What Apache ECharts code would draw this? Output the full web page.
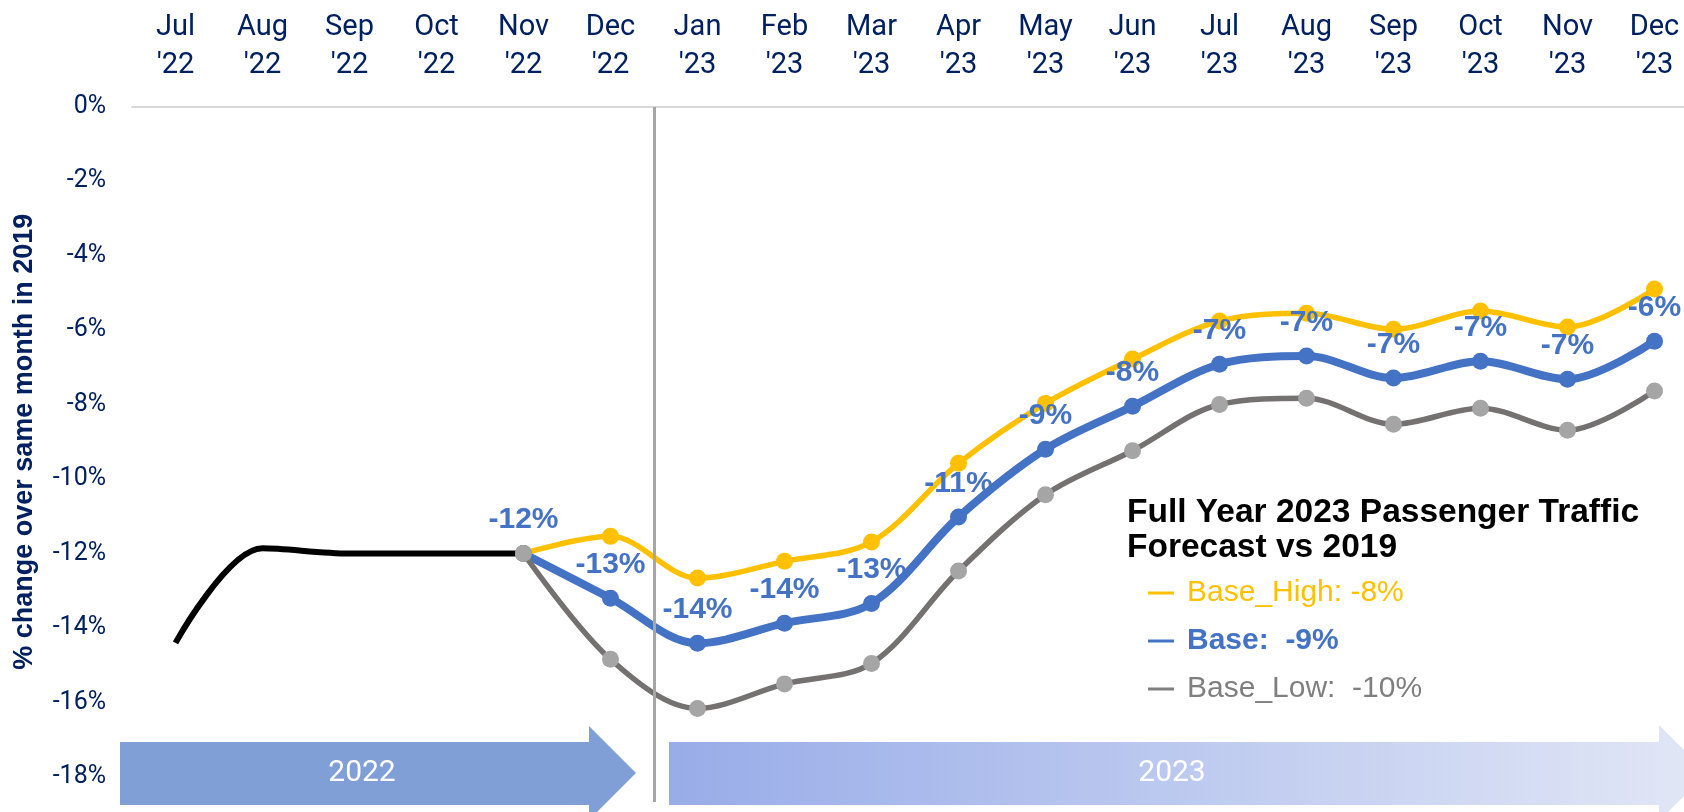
<!DOCTYPE html>
<html>
<head>
<meta charset="utf-8">
<script src="https://cdn.jsdelivr.net/npm/echarts@6/dist/echarts.min.js"></script>
<style>
html,body{margin:0;padding:0;background:#fff;}
#c{width:1684px;height:812px;}
</style>
</head>
<body>
<div id="c"></div>
<script>
// ---- data ----
const categories = ["Jul\n'22","Aug\n'22","Sep\n'22","Oct\n'22","Nov\n'22","Dec\n'22",
  "Jan\n'23","Feb\n'23","Mar\n'23","Apr\n'23","May\n'23","Jun\n'23",
  "Jul\n'23","Aug\n'23","Sep\n'23","Oct\n'23","Nov\n'23","Dec\n'23"];
const actual   = [-14.4,-11.86,-12.0,-12.0,-12.0,null,null,null,null,null,null,null,null,null,null,null,null,null];
const baseHigh = [null,null,null,null,-12.0,-11.54,-12.66,-12.21,-11.69,-9.58,-7.97,-6.78,-5.76,-5.55,-5.98,-5.49,-5.92,-4.9];
const base     = [null,null,null,null,-12.0,-13.2,-14.41,-13.87,-13.34,-11.02,-9.2,-8.05,-6.92,-6.7,-7.29,-6.84,-7.32,-6.3];
const baseLow  = [null,null,null,null,-12.0,-14.84,-16.16,-15.5,-14.95,-12.47,-10.42,-9.24,-8.0,-7.83,-8.53,-8.1,-8.69,-7.64];
const yTicks = {min:-18, max:0, interval:2};
const seriesNames = ['Base_High','Base','Base_Low'];
const legendTexts = {'Base_High':'Base_High: -8%','Base':'Base:  -9%','Base_Low':'Base_Low:  -10%'};
const boxTitle = 'Full Year 2023 Passenger Traffic\nForecast vs 2019';
const yAxisName = '% change over same month in 2019';
const periodLabels = ['2022','2023'];

// ---- chart ----
const chart = echarts.init(document.getElementById('c'));
const navy = '#002060';
const option = {
  animation:false,
  backgroundColor:'#fff',
  title:{
    text: boxTitle, left:1122, top:490,
    textStyle:{fontFamily:'Liberation Sans', fontWeight:'bold', fontSize:33.5, lineHeight:35, color:'#000'}
  },
  legend:{
    orient:'vertical', left:1143, top:572, itemGap:16,
    icon:'rect', itemWidth:26, itemHeight:3,
    selectedMode:false,
    formatter: n => legendTexts[n],
    textStyle:{fontFamily:'Liberation Sans', fontSize:30, lineHeight:32, padding:[0,0,0,8]},
    data:[
      {name:seriesNames[0], itemStyle:{color:'#FFC000'}, textStyle:{color:'#FFC000'}},
      {name:seriesNames[1], itemStyle:{color:'#4472C4'}, textStyle:{color:'#4472C4', fontWeight:'bold'}},
      {name:seriesNames[2], itemStyle:{color:'#7F7F7F'}, textStyle:{color:'#7F7F7F'}}
    ]
  },
  grid:{left:132, top:106.5, width:1566, bottom:35, containLabel:false, outerBoundsMode:'none'},
  xAxis:{
    type:'category', data:categories, position:'top', boundaryGap:true,
    axisLine:{lineStyle:{color:'#D9D9D9', width:2}},
    axisTick:{inside:true, length:9, lineStyle:{color:'#D9D9D9', width:2}},
    axisLabel:{margin:22, color:navy, fontFamily:'Roboto', fontSize:29, lineHeight:38, interval:0, hideOverlap:false},
    splitLine:{show:false}
  },
  yAxis:{
    type:'value', min:yTicks.min, max:yTicks.max, interval:yTicks.interval,
    name:yAxisName, nameLocation:'middle', nameRotate:90, nameGap:94,
    nameTextStyle:{fontFamily:'Liberation Sans', fontWeight:'bold', fontSize:27, color:navy},
    axisLine:{show:false}, axisTick:{show:false}, splitLine:{show:false},
    axisLabel:{margin:26, color:navy, fontFamily:'Roboto', fontSize:25, formatter: v => v + '%'}
  },
  series:[
    {name:'Actual', type:'line', data:actual, smooth:0.33, symbol:'none',
     lineStyle:{color:'#000', width:6}, itemStyle:{color:'#000'}, z:2},
    {name:seriesNames[0], type:'line', data:baseHigh, smooth:0.33, symbol:'circle', symbolSize:17,
     lineStyle:{color:'#FFC000', width:5.5}, itemStyle:{color:'#FFC000'}, z:3},
    {name:seriesNames[1], type:'line', data:base, smooth:0.33, symbol:'circle', symbolSize:17,
     lineStyle:{color:'#4472C4', width:8}, itemStyle:{color:'#4472C4'}, z:4,
     label:{show:true, position:'top', distance:10, color:'#4472C4', fontFamily:'Liberation Sans',
       fontWeight:'bold', fontSize:30, formatter: p => Math.round(p.value) + '%'}},
    {name:seriesNames[2], type:'line', data:baseLow, smooth:0.33, symbol:'circle', symbolSize:17,
     lineStyle:{color:'#767171', width:5.5}, itemStyle:{color:'#A5A5A5'}, z:5}
  ],
  graphic:[
    {type:'polygon', z:1, shape:{points:[[120,742],[589,742],[589,726],[636,773],[589,820],[589,805],[120,805]]},
     style:{fill:'#7F9FD6'}},
    {type:'polygon', z:1, shape:{points:[[669,742],[1659,742],[1659,725],[1707,773],[1659,821],[1659,805],[669,805]]},
     style:{fill:new echarts.graphic.LinearGradient(0,0,1,0,[{offset:0,color:'#98ACE8'},{offset:1,color:'#E2E7F6'}])}},
    {type:'text', z:2, x:362, y:773, style:{text:periodLabels[0], fill:'#fff', font:'30px Roboto',
      align:'center', verticalAlign:'middle', textAlign:'center', textVerticalAlign:'middle'}},
    {type:'text', z:2, x:1172, y:773, style:{text:periodLabels[1], fill:'#fff', font:'30px Roboto',
      align:'center', verticalAlign:'middle', textAlign:'center', textVerticalAlign:'middle'}},
    {type:'line', z:100, shape:{x1:654.5, y1:107, x2:654.5, y2:802}, style:{stroke:'#A6A6A6', lineWidth:3}}
  ]
};
chart.setOption(option);
</script>
</body>
</html>
